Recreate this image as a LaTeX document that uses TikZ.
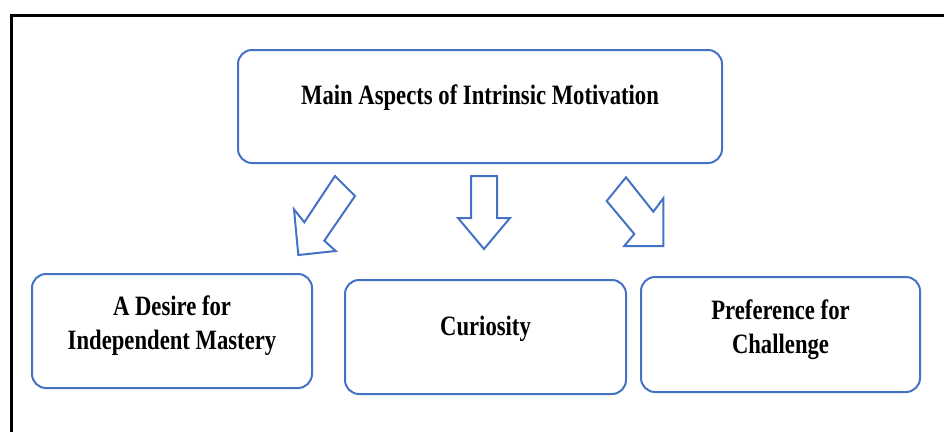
\documentclass[tikz,border=0pt]{standalone}
\usepackage{fontspec}
\newfontfamily\boxfont{Liberation Serif}[FakeStretch=0.81]
\definecolor{boxblue}{HTML}{4472C4}
\tikzset{
  aspectbox/.style={draw=boxblue, line width=2pt, rounded corners=14pt, fill=white, inner sep=0pt},
  boxtext/.style={font=\boxfont\bfseries\fontsize{28}{34}\selectfont, align=center, inner sep=0pt, text=black},
  bigarrow/.style={draw=boxblue, line width=2pt, fill=white, line join=miter},
}
\begin{document}
\begin{tikzpicture}[x=1pt,y=-1pt]
\useasboundingbox (0,0) rectangle (944,432);
\fill[white] (0,0) rectangle (944,432);
% frame
\coordinate (fbl) at (11,432);
\coordinate (ftl) at (11,15.5);
\coordinate (ftr) at (944,15.5);
\draw[black, line width=3pt] (fbl) -- (ftl) -- (ftr);

% boxes
\path[aspectbox] (238,50) rectangle (722,163);
\node[minimum width=484pt, minimum height=113pt] (main) at (480,106.5) {};
\path[aspectbox] (32,274) rectangle (312,388);
\node[minimum width=280pt, minimum height=114pt] (desire) at (172,331) {};
\path[aspectbox] (345,280) rectangle (626,394);
\node[minimum width=281pt, minimum height=114pt] (curio) at (485.5,337) {};
\path[aspectbox] (641,277) rectangle (920,392);
\node[minimum width=279pt, minimum height=115pt] (pref) at (780.5,334.5) {};

% texts (anchor=base of a multi-line node is the last line's baseline)
\node[boxtext, anchor=base] (maint) at (480,104) {Main Aspects of Intrinsic Motivation};
\node[boxtext, anchor=base] (desiret) at (172,349) {A Desire for\\Independent Mastery};
\node[boxtext, anchor=base] (curiot) at (485.5,335) {Curiosity};
\node[boxtext, anchor=base] (preft) at (780.5,353) {Preference for\\Challenge};

% arrows
\draw[bigarrow] (335,176) -- (355,196) -- (324.3,240.7) -- (335.7,251) -- (298.3,255) -- (294,209.3) -- (304.3,222.3) -- cycle;
\draw[bigarrow] (471,176) -- (497,176) -- (497,218) -- (510,218) -- (484,249) -- (458,218) -- (471,218) -- cycle;
\draw[bigarrow] (626,177.3) -- (653.3,211.7) -- (663.3,198.3) -- (663.3,246) -- (624.3,246) -- (634.3,234) -- (606.7,201) -- cycle;
\end{tikzpicture}
\end{document}
